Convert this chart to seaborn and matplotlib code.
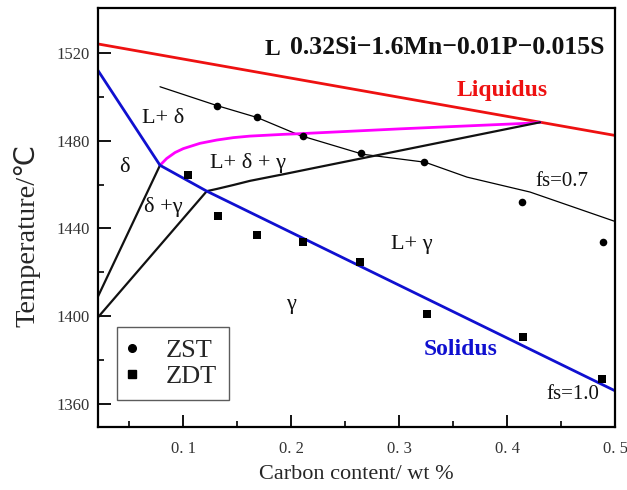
import numpy as np
import pandas as pd
import seaborn as sns
import matplotlib.pyplot as plt
from matplotlib.lines import Line2D

# Phase boundaries (carbon wt %, temperature °C)
liquidus_c = [0.0213, 0.5]
liquidus_t = [1524.1, 1482.4]

solidus_c = [0.0213, 0.0787, 0.122, 0.5]
solidus_t = [1512.0, 1468.8, 1457.0, 1366.0]

delta_end_c = [0.0787, 0.0849, 0.0926, 0.1003, 0.1157, 0.1312, 0.1466,
               0.1620, 0.1775, 0.1929, 0.2083, 0.3009, 0.4213, 0.4306]
delta_end_t = [1468.8, 1471.9, 1474.6, 1476.4, 1478.8, 1480.3, 1481.4,
               1482.1, 1482.5, 1482.9, 1483.2, 1485.4, 1488.0, 1488.4]

gamma_start_c = [0.122, 0.1312, 0.1466, 0.1620, 0.1929, 0.2238, 0.4306]
gamma_start_t = [1457.0, 1458.0, 1459.8, 1461.7, 1464.7, 1467.8, 1488.4]

delta_solvus_c = [0.0213, 0.0787]
delta_solvus_t = [1409.0, 1468.8]

gamma_solvus_c = [0.0213, 0.122]
gamma_solvus_t = [1399.5, 1457.0]

fs07_c = [0.0787, 0.1315, 0.1685, 0.2083, 0.2667, 0.3241, 0.3630, 0.4213, 0.5]
fs07_t = [1504.6, 1496.0, 1490.6, 1482.4, 1473.8, 1470.2, 1463.4, 1456.6, 1443.2]

# Measured zero strength / zero ductility temperatures
zst_c = [0.1315, 0.1685, 0.2111, 0.2648, 0.3231, 0.4139, 0.4889]
zst_t = [1496.0, 1490.6, 1482.0, 1474.3, 1470.2, 1452.1, 1434.0]

zdt_c = [0.1046, 0.1324, 0.1685, 0.2111, 0.2639, 0.3259, 0.4148, 0.4880]
zdt_t = [1464.3, 1445.7, 1437.1, 1434.0, 1424.9, 1400.9, 1390.5, 1371.4]

x_ticks = [0.1, 0.2, 0.3, 0.4, 0.5]
x_tick_labels = ["0. 1", "0. 2", "0. 3", "0. 4", "0. 5"]
y_ticks = [1360, 1400, 1440, 1480, 1520]

sns.set_theme(style="ticks")
plt.rcParams["font.family"] = ["Liberation Serif", "DejaVu Serif"]

fig = plt.figure(figsize=(6.27, 4.90), dpi=100)
ax = fig.add_axes([0.1563, 0.1286, 0.9809 - 0.1563, 0.9837 - 0.1286])


def boundary(c, t, color, lw):
    sns.lineplot(x=c, y=t, ax=ax, color=color, linewidth=lw, sort=False,
                 estimator=None, legend=False)


boundary(fs07_c, fs07_t, "black", 0.9)
boundary(liquidus_c, liquidus_t, "#ee1111", 2.0)
boundary(delta_end_c, delta_end_t, "#ff00ff", 2.0)
boundary(gamma_start_c, gamma_start_t, "#111111", 1.6)
boundary(delta_solvus_c, delta_solvus_t, "#111111", 1.6)
boundary(gamma_solvus_c, gamma_solvus_t, "#111111", 1.6)
boundary(solidus_c, solidus_t, "#1010d0", 2.0)

sns.scatterplot(x=zst_c, y=zst_t, ax=ax, marker="o", s=30, color="black",
                edgecolor="black", linewidth=0, zorder=5, legend=False)
sns.scatterplot(x=zdt_c, y=zdt_t, ax=ax, marker="s", s=38, color="black",
                edgecolor="black", linewidth=0, zorder=5, legend=False)

ax.set_xlim(0.0213, 0.5)
ax.set_ylim(1349.5, 1540.5)
ax.set_xticks(x_ticks)
ax.set_xticklabels(x_tick_labels)
ax.set_yticks(y_ticks)
ax.set_xticks([0.05, 0.15, 0.25, 0.35, 0.45], minor=True)
ax.set_yticks([1380, 1420, 1460, 1500], minor=True)
ax.tick_params(which="major", direction="in", length=9, width=1.3,
               labelsize=12, labelcolor="#333333", color="black")
ax.tick_params(which="minor", direction="in", length=4, width=1.2, color="black")
ax.tick_params(axis="x", which="major", pad=10)
ax.tick_params(axis="y", which="major", pad=6)
for side in ["left", "bottom", "top", "right"]:
    ax.spines[side].set_color("black")
    ax.spines[side].set_linewidth(1.6)

ax.set_xlabel("Carbon content/ wt %", fontsize=16, labelpad=6)
ax.set_ylabel("Temperature/℃", fontsize=20.5,
              family=["Liberation Serif", "DejaVu Sans"])
ax.yaxis.set_label_coords(-0.112, 0.458)

serif = {"ha": "center", "va": "center", "color": "#111111"}
ax.text(0.1824, 1521.4, "L", fontsize=17, fontweight="bold", **serif)
ax.text(0.1991, 1522.7, "0.32Si−1.6Mn−0.01P−0.015S", fontsize=18.5,
        fontweight="bold", ha="left", va="center", color="#111111")
ax.text(0.3954, 1502.8, "Liquidus", fontsize=17, fontweight="bold",
        ha="center", va="center", color="#ee1111")
ax.text(0.3574, 1384.6, "Solidus", fontsize=17, fontweight="bold",
        ha="center", va="center", color="#1010d0")
ax.text(0.0815, 1490.1, "L+ δ", fontsize=16, **serif)
ax.text(0.0454, 1467.9, "δ", fontsize=16, **serif)
ax.text(0.1602, 1469.7, "L+ δ + γ", fontsize=16, **serif)
ax.text(0.0815, 1449.8, "δ +γ", fontsize=16, **serif)
ax.text(0.3120, 1432.6, "L+ γ", fontsize=16, **serif)
ax.text(0.2000, 1405.4, "γ", fontsize=16, **serif)
ax.text(0.4509, 1461.6, "fs=0.7", fontsize=15, **serif)
ax.text(0.4611, 1364.2, "fs=1.0", fontsize=15, **serif)

handles = [
    Line2D([], [], linestyle="none", marker="o", markersize=5.5,
           color="black", label="ZST"),
    Line2D([], [], linestyle="none", marker="s", markersize=6,
           color="black", label="ZDT"),
]
leg = ax.legend(handles=handles, loc="lower left", bbox_to_anchor=(0.037, 0.064),
                borderaxespad=0, fontsize=19, frameon=True, fancybox=False,
                handlelength=0.25, handletextpad=1.15, borderpad=0.45,
                labelspacing=0.1)
leg.get_frame().set_edgecolor("#333333")
leg.get_frame().set_linewidth(1.0)

fig.savefig("out.png", dpi=100)
